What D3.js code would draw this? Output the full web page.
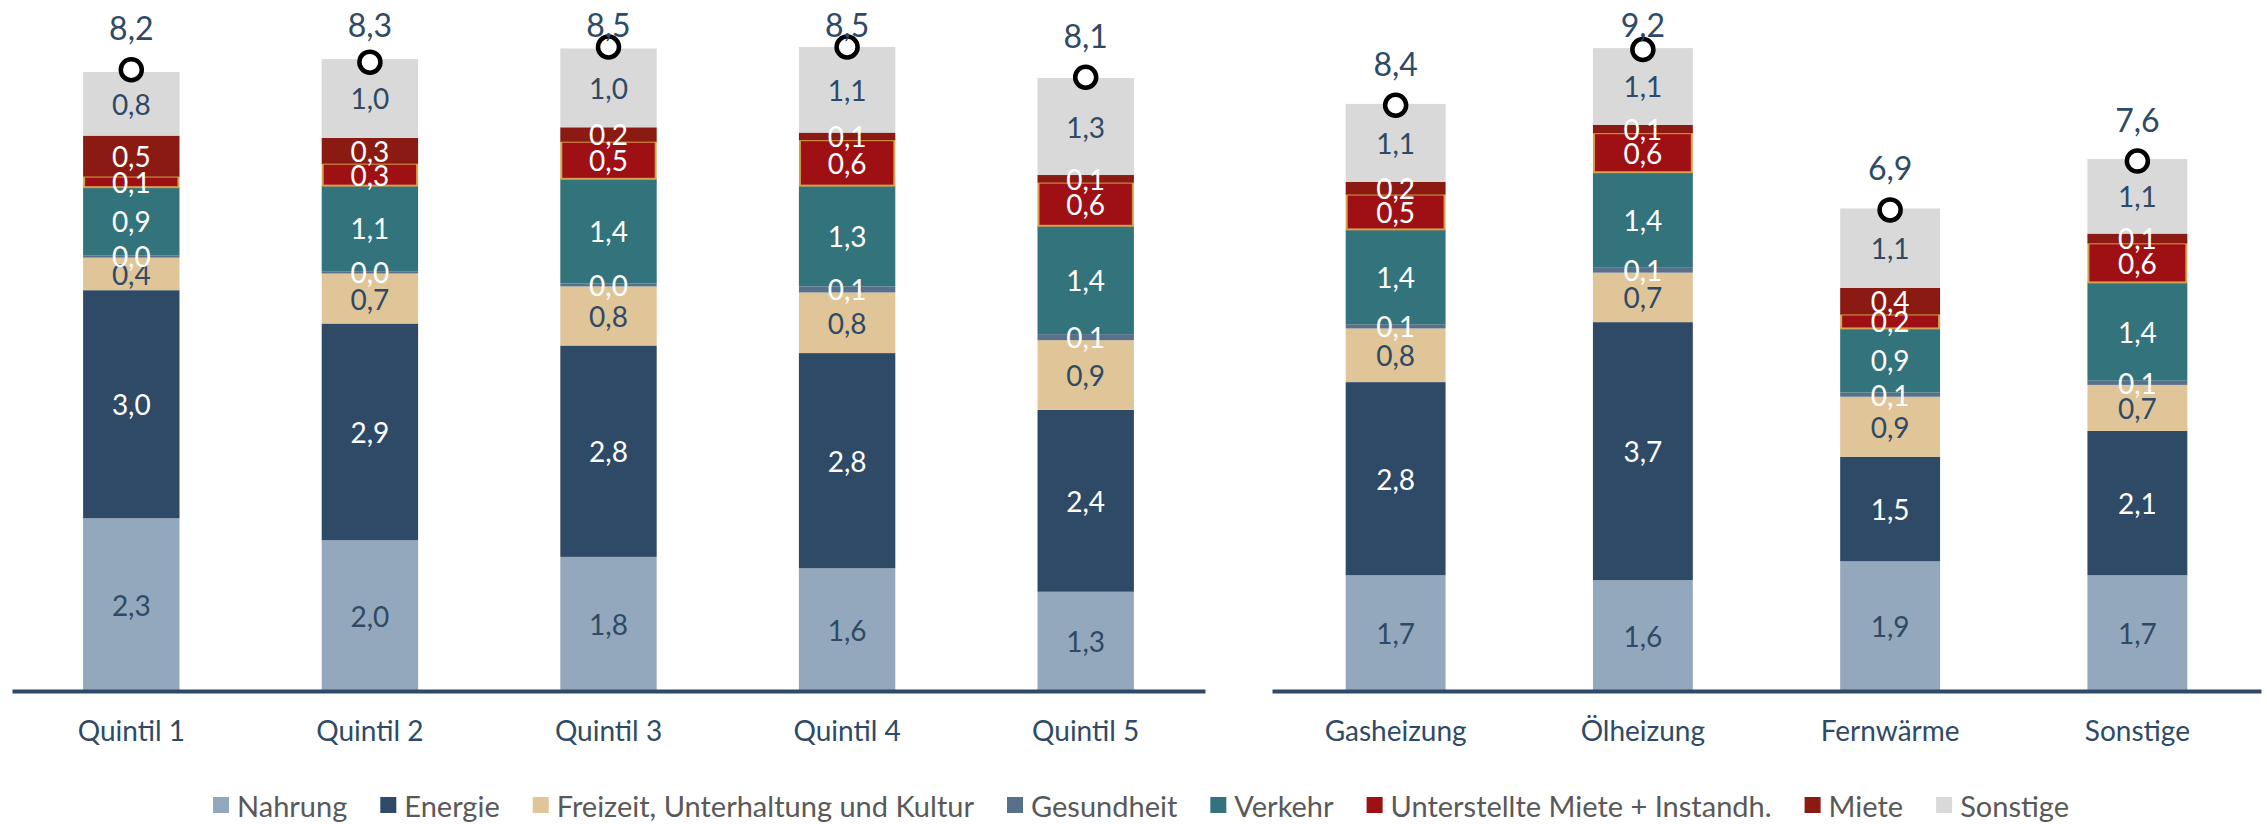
<!DOCTYPE html>
<html>
<head>
<meta charset="utf-8">
<script src="https://cdn.jsdelivr.net/npm/d3@7"></script>
<style>
  body { margin: 0; background: #fff; }
  svg { display: block; font-family: Lato, "Noto Sans", sans-serif; }
</style>
</head>
<body>
<div id="chart"></div>
<script>
// categories of the two panels
const quintile = ['Quintil 1', 'Quintil 2', 'Quintil 3', 'Quintil 4', 'Quintil 5'];
const heating = ['Gasheizung', 'Ölheizung', 'Fernwärme', 'Sonstige'];
const seriesNames = ['Nahrung', 'Energie', 'Freizeit, Unterhaltung und Kultur', 'Gesundheit',
  'Verkehr', 'Unterstellte Miete + Instandh.', 'Miete', 'Sonstige'];

// values: 5 quintiles followed by 4 heating types
const nahrung      = [2.28, 1.99, 1.77, 1.62, 1.31, 1.66, 1.59, 1.86, 1.66];
const energie      = [3.01, 2.86, 2.79, 2.84, 2.40, 2.77, 3.70, 1.50, 2.07];
const freizeit     = [0.43, 0.66, 0.78, 0.80, 0.92, 0.77, 0.71, 0.86, 0.66];
const gesundheit   = [0.03, 0.03, 0.04, 0.08, 0.08, 0.06, 0.07, 0.06, 0.06];
const verkehr      = [0.90, 1.13, 1.38, 1.33, 1.43, 1.36, 1.37, 0.92, 1.41];
const unterstellte = [0.14, 0.29, 0.49, 0.60, 0.57, 0.50, 0.56, 0.20, 0.56];
const miete        = [0.54, 0.34, 0.19, 0.10, 0.10, 0.18, 0.12, 0.38, 0.14];
const sonstige     = [0.84, 1.04, 1.04, 1.13, 1.28, 1.12, 1.10, 1.14, 1.07];
const totals       = [8.2, 8.3, 8.5, 8.5, 8.1, 8.4, 9.2, 6.9, 7.6];

const seriesValues = [nahrung, energie, freizeit, gesundheit, verkehr, unterstellte, miete, sonstige];
const colors = ['#93a8bc', '#2e4a66', '#e0c598', '#587089', '#33737c', '#9e1014', '#8a1a12', '#d9d9d9'];
const labelColors = ['#2e4a66', '#fff', '#2e4a66', '#fff', '#fff', '#fff', '#fff', '#2e4a66'];
const navy = '#2e4a66';

const W = 2267, H = 824;
const axisY = 691;
const fmt = v => d3.format('.1f')(v).replace('.', ',');

const svg = d3.select('#chart').append('svg')
  .attr('width', W)
  .attr('height', H);

function drawPanel(cats, offset, xRange, yMax) {
  const rows = cats.map((c, i) => {
    const r = { cat: c, total: totals[offset + i] };
    seriesNames.forEach((s, k) => { r[s] = seriesValues[k][offset + i]; });
    return r;
  });

  const x = d3.scaleBand().domain(cats).range(xRange)
    .paddingInner(0.596).paddingOuter(0.298);
  const y = d3.scaleLinear().domain([0, yMax]).range([axisY, 0]);

  const stacked = d3.stack().keys(seriesNames)(rows);
  const g = svg.append('g');

  const layers = g.selectAll('.layer')
    .data(stacked)
    .enter().append('g')
    .attr('fill', (d, i) => colors[i]);

  layers.selectAll('rect')
    .data(d => d)
    .enter().append('rect')
    .attr('x', d => x(d.data.cat))
    .attr('y', d => y(d[1]))
    .attr('width', x.bandwidth())
    .attr('height', d => y(d[0]) - y(d[1]));

  // gold outline of the imputed rent segment
  layers.filter((d, i) => i === 5).selectAll('rect')
    .attr('stroke', '#d4a24c')
    .attr('stroke-width', 2)
    .attr('x', d => x(d.data.cat) + 1)
    .attr('width', x.bandwidth() - 2);

  // segment labels
  stacked.forEach((layer, i) => {
    g.selectAll('.lbl' + i)
      .data(layer)
      .enter().append('text')
      .attr('x', d => x(d.data.cat) + x.bandwidth() / 2)
      .attr('y', d => (y(d[0]) + y(d[1])) / 2)
      .attr('text-anchor', 'middle')
      .attr('dominant-baseline', 'central')
      .attr('font-size', 28)
      .attr('fill', labelColors[i])
      .text(d => fmt(d[1] - d[0]));
  });

  // total markers
  g.selectAll('.marker')
    .data(rows)
    .enter().append('circle')
    .attr('cx', d => x(d.cat) + x.bandwidth() / 2)
    .attr('cy', d => y(d.total))
    .attr('r', 10.5)
    .attr('fill', '#fff')
    .attr('stroke', '#000')
    .attr('stroke-width', 4.5);

  g.selectAll('.total')
    .data(rows)
    .enter().append('text')
    .attr('x', d => x(d.cat) + x.bandwidth() / 2)
    .attr('y', d => Math.max(y(d.total) - 42, 24.5))
    .attr('text-anchor', 'middle')
    .attr('dominant-baseline', 'central')
    .attr('font-size', 32)
    .attr('fill', navy)
    .text(d => fmt(d.total));

  // category axis
  const axis = g.append('g')
    .attr('transform', `translate(0,${axisY})`)
    .call(d3.axisBottom(x).tickSize(0).tickPadding(30));
  axis.select('.domain').attr('stroke', navy).attr('stroke-width', 4);
  axis.selectAll('text')
    .attr('font-family', 'Lato, "Noto Sans", sans-serif')
    .attr('font-size', 28)
    .attr('fill', navy);
}

drawPanel(quintile, 0, [12, 1205], 9.12);
drawPanel(heating, 5, [1272, 2261], 9.91);

// legend
const legend = svg.append('g');
const items = legend.selectAll('g')
  .data(seriesNames)
  .enter().append('g');
items.append('rect')
  .attr('width', 16).attr('height', 16)
  .attr('y', -8)
  .attr('fill', (d, i) => colors[i]);
items.append('text')
  .attr('x', 24)
  .attr('dominant-baseline', 'central')
  .attr('font-size', 29)
  .attr('fill', '#595959')
  .text(d => d);

let cx = 0;
items.each(function () {
  const w = 24 + d3.select(this).select('text').node().getComputedTextLength();
  d3.select(this).attr('transform', `translate(${cx},0)`);
  cx += w + 33;
});
const legendW = cx - 33;
legend.attr('transform', `translate(${1141 - legendW / 2},805)`);
</script>
</body>
</html>
